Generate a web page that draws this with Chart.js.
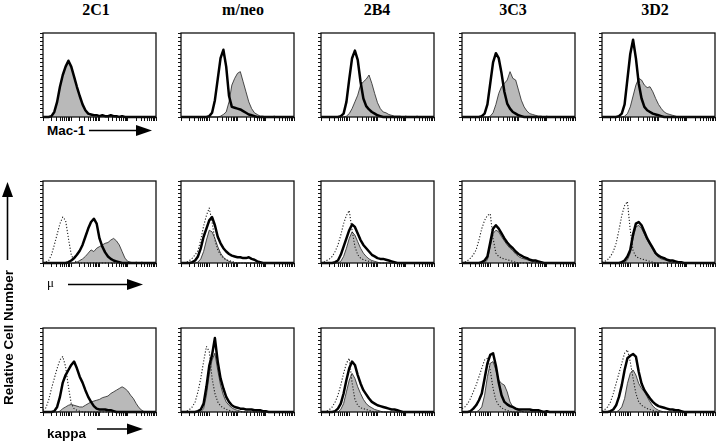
<!DOCTYPE html>
<html>
<head>
<meta charset="utf-8">
<script src="https://cdn.jsdelivr.net/npm/chart.js@4"></script>
<style>
  body { margin: 0; background: #fff; }
  #fig { position: relative; width: 720px; height: 442px; overflow: hidden; background: #fff; }
  .panel { position: absolute; }
  .title { position: absolute; width: 100px; text-align: center; font: bold 16px 'Liberation Serif', serif; line-height: 16px; color: #000; }
  .lab { position: absolute; font: bold 13.5px 'Liberation Sans', Arial, sans-serif; line-height: 13px; color: #000; white-space: nowrap; }
  svg { position: absolute; left: 0; top: 0; }
</style>
</head>
<body>
<div id="fig"></div>
<script>
// fluorescence bins, in decades (log10 of channel)
const bins = [0,0.1,0.2,0.3,0.4,0.5,0.6,0.7,0.8,0.9,1,1.1,1.2,1.3,1.4,1.5,1.6,1.7,1.8,1.9,2,
  2.1,2.2,2.3,2.4,2.5,2.6,2.7,2.8,2.9,3,3.1,3.2,3.3,3.4,3.5,3.6,3.7,3.8,3.9,4];
const clones = ['2C1', 'm/neo', '2B4', '3C3', '3D2'];
const markers = ['Mac-1', 'μ', 'kappa'];

// % of panel height, one array per clone (missing tail = 0)
const mac1Filled = [
  [0,0,0,1,6,18,36,50,60,67, 60,48,36,25,15,8,4,3,2,2, 1,2,1,1,2,1,1,0,1],
  [0,0,0,0,0,0,0,0,0,0, 0,0,0,0,1,3,6,18,38,46, 52,54,42,30,18,10,5,3,1,1, 0,0,0,1],
  [0,0,0,0,0,0,0,0,0,1, 4,10,18,26,38,42,45,50,40,28, 17,10,6,5,3,2,1,1,1,0, 1,0,0,0,1],
  [0,0,0,0,0,0,0,0,0,0, 1,5,15,28,36,40,44,54,46,44, 32,20,12,7,4,3,2,1,1,0, 1],
  [0,0,0,0,0,0,0,0,1,4, 12,25,38,46,44,38,35,36,30,22, 15,10,6,4,3,2,1]
];
const mac1Open = [
  [0,0,0,1,6,18,36,50,60,67, 60,48,36,25,15,8,4,3,2,2, 1,2,1,1,2,1,1,0,1],
  [0,0,0,0,0,0,0,0,0,0, 1,5,20,45,70,80,60,25,12,11, 10,9,7,5,3,2,1],
  [0,0,0,0,0,0,0,1,4,18, 45,70,79,68,42,22,13,9,6,4, 2,1],
  [0,0,0,0,0,0,0,1,4,15, 40,65,76,70,52,30,16,10,6,4, 2,1],
  [0,0,0,0,0,0,1,4,15,45, 75,92,70,40,22,12,8,6,4,3, 2,1]
];

const muFilled = [
  [0,0,0,0,0,0,0,0,0,0, 0,0,1,3,5,8,12,16,14,18, 20,22,24,25,28,30,27,22,14,6, 2,1,0,1,0,1],
  [0,0,0,0,0,0,1,5,14,28, 40,38,30,20,12,7,4,2,1],
  [0,0,0,0,0,0,0,2,8,18, 30,38,34,26,18,12,8,5,3,2, 1],
  [0,0,0,0,0,0,0,0,0,4, 20,36,40,38,32,27,22,18,15,11, 8,6,5,4,3,2,1],
  [0,0,0,0,0,0,0,0,0,4, 12,30,44,46,42,35,28,22,16,10, 7,5,4,3,2,1]
];
const muOpen = [
  [0,0,0,0,0,0,0,0,0,1, 3,6,10,15,22,32,42,50,54,48, 30,20,13,8,5,3,2,1],
  [0,0,0,0,1,3,8,18,32,42, 52,56,46,32,24,18,14,11,9,8, 7,7,6,6,7,5,4,2,1],
  [0,0,0,0,0,1,3,10,20,30, 40,47,44,36,28,22,18,14,10,8, 6,5,5,4,3,2,1],
  [0,0,0,0,0,0,0,1,3,8, 25,42,46,42,36,30,25,21,18,14, 11,9,7,6,4,3,3,2,1],
  [0,0,0,0,0,0,0,1,3,8, 16,35,48,50,46,38,30,24,18,12, 9,7,6,4,3,3,2,1,1]
];
const muDotted = [
  [0,1,3,10,22,35,48,56,52,30, 10,3,1],
  [0,0,1,3,6,10,15,28,45,58, 67,50,28,16,10,6,4,3,2,1],
  [0,1,3,5,8,14,22,34,48,58, 64,40,20,10,6,4,3,2,1],
  [0,1,3,6,10,16,28,42,52,58, 60,30,12,8,6,5,4,3,2,1],
  [1,2,4,8,14,24,40,58,70,75, 40,15,8,6,5,4,3,2,1]
];

const kappaFilled = [
  [0,0,0,0,0,0,1,4,6,8, 9,8,7,6,6,8,10,12,13,14, 15,17,18,19,22,24,26,28,30,28, 25,20,16,10,5,2],
  [0,0,0,0,0,0,0,0,4,20, 45,62,70,50,32,20,12,8,5,3, 2,1],
  [0,0,0,0,0,0,0,3,10,24, 38,46,40,30,22,15,10,7,5,3, 2,1],
  [0,0,0,0,0,0,2,6,20,42, 58,60,50,38,34,32,24,12,6,3, 2,1],
  [0,0,0,0,0,0,2,6,16,34, 46,50,44,34,28,24,18,12,7,4, 2,1]
];
const kappaOpen = [
  [0,0,0,0,1,6,18,35,44,50, 56,60,52,42,35,26,18,12,7,4, 3,3,3,2,2,1],
  [0,0,0,0,0,0,1,3,10,30, 55,68,88,60,40,28,18,12,8,6, 5,4,4,3,3,3,2,2,2,1, 1],
  [0,0,0,0,0,1,4,10,22,38, 52,60,56,44,34,26,21,16,12,10, 8,7,6,5,4,3,3,2,1],
  [0,0,0,1,4,8,14,22,40,58, 68,70,55,35,20,12,9,7,6,4, 3,3,3,3,3,2,2,2,1,0, 1],
  [0,0,0,1,3,8,18,32,50,64, 67,69,66,48,34,26,21,16,12,9, 7,6,5,4,3,3,2,2,1]
];
const kappaDotted = [
  [2,5,14,28,40,52,62,66,54,30, 10,4,2,1],
  [0,0,1,3,6,12,24,40,60,78, 72,40,22,12,7,5,3,2,1],
  [0,0,1,3,6,12,20,32,46,58, 64,35,15,8,5,4,3,2,1],
  [4,6,10,16,24,32,42,52,62,64, 50,28,14,8,5,3,2,1],
  [1,3,6,12,22,34,46,58,70,74, 60,40,22,12,8,6,4,3,2,1]
];

const rows = [
  { filled: mac1Filled, open: mac1Open, dotted: null },
  { filled: muFilled, open: muOpen, dotted: muDotted },
  { filled: kappaFilled, open: kappaOpen, dotted: kappaDotted }
];

// layout
const colLeft = [43, 181, 321, 462, 602];
const rowTop = [33, 181, 328];
const rowHeight = [84, 82, 84];
const boxWidth = 113;

const fig = document.getElementById('fig');

const boxPlugin = {
  id: 'box',
  afterDatasetsDraw(chart) {
    const { ctx, chartArea: a } = chart;
    ctx.save();
    ctx.strokeStyle = '#111';
    ctx.lineWidth = 1.3;
    ctx.strokeRect(a.left, a.top, a.right - a.left, a.bottom - a.top);
    ctx.restore();
  }
};

const points = (values) => bins.map((b, i) => ({ x: Math.pow(10, b), y: values[i] ?? 0 }));

function makePanel(r, c) {
  const holder = document.createElement('div');
  holder.className = 'panel';
  holder.style.left = (colLeft[c] - 4) + 'px';
  holder.style.top = (rowTop[r] - 1) + 'px';
  const canvas = document.createElement('canvas');
  canvas.width = boxWidth + 6;
  canvas.height = rowHeight[r] + 6;
  holder.appendChild(canvas);
  fig.appendChild(holder);

  const row = rows[r];
  const datasets = [
    { data: points(row.open[c]), borderColor: '#000', borderWidth: 2.5, fill: false }
  ];
  if (row.dotted) {
    datasets.push({ data: points(row.dotted[c]), borderColor: '#222', borderWidth: 1.1, borderDash: [1.2, 1.8], fill: false });
  }
  datasets.push({ data: points(row.filled[c]), borderColor: '#222', borderWidth: 0.8, backgroundColor: '#b9b9b9', fill: 'origin' });

  new Chart(canvas, {
    type: 'line',
    data: { datasets },
    options: {
      responsive: false,
      animation: false,
      events: [],
      layout: { padding: { top: 1, right: 2, left: 0, bottom: 0 } },
      elements: { point: { radius: 0 }, line: { tension: 0, borderJoinStyle: 'round' } },
      datasets: { line: { clip: false } },
      plugins: { legend: { display: false }, tooltip: { enabled: false } },
      scales: {
        x: {
          type: 'logarithmic', min: 1, max: 10000,
          border: { display: false },
          grid: { drawOnChartArea: false, drawTicks: true, tickLength: 4, color: '#111', tickWidth: 1 },
          ticks: { display: false },
          afterBuildTicks(s) { s.ticks = s.ticks.filter((t) => t.significand !== 15); },
          afterFit(s) { s.height = 5; }
        },
        y: {
          min: 0, max: 100,
          border: { display: false },
          grid: { drawOnChartArea: false, drawTicks: true, tickLength: 3, color: '#111', tickWidth: 1 },
          ticks: { display: false, stepSize: 5 },
          afterFit(s) { s.width = 4; }
        }
      }
    },
    plugins: [boxPlugin]
  });
}

for (let r = 0; r < rows.length; r++) {
  for (let c = 0; c < clones.length; c++) makePanel(r, c);
}

// column titles
const titleX = [96, 243, 377, 513, 655];
clones.forEach((name, i) => {
  const t = document.createElement('div');
  t.className = 'title';
  t.textContent = name;
  t.style.left = (titleX[i] - 50) + 'px';
  t.style.top = '2px';
  fig.appendChild(t);
});

// row labels
function label(text, left, top, extra) {
  const d = document.createElement('div');
  d.className = 'lab';
  d.textContent = text;
  d.style.left = left + 'px';
  d.style.top = top + 'px';
  if (extra) Object.assign(d.style, extra);
  fig.appendChild(d);
  return d;
}
label(markers[0], 47, 124);
label(markers[1], 47, 276, { fontFamily: "'Liberation Serif', serif", fontWeight: 'normal', fontSize: '13px' });
label(markers[2], 47, 427);
label('Relative Cell Number', -62, 331, { width: '140px', textAlign: 'center', transform: 'rotate(-90deg)' });

// arrows
const svgNS = 'http://www.w3.org/2000/svg';
const svg = document.createElementNS(svgNS, 'svg');
svg.setAttribute('width', 720);
svg.setAttribute('height', 442);
svg.innerHTML = `
  <g stroke="#000" stroke-width="1.6" fill="none">
    <line x1="89" y1="130.5" x2="140" y2="130.5"/>
    <line x1="68" y1="284.5" x2="130" y2="284.5"/>
    <line x1="97" y1="429" x2="130" y2="429"/>
    <line x1="7.5" y1="195" x2="7.5" y2="260"/>
  </g>
  <g fill="#000">
    <polygon points="136,125 152,130.5 136,136"/>
    <polygon points="127,279 143,284.5 127,290"/>
    <polygon points="127,423.5 143,429 127,434.5"/>
    <polygon points="2,197 7.5,182 13,197"/>
  </g>`;
fig.appendChild(svg);
</script>
</body>
</html>
